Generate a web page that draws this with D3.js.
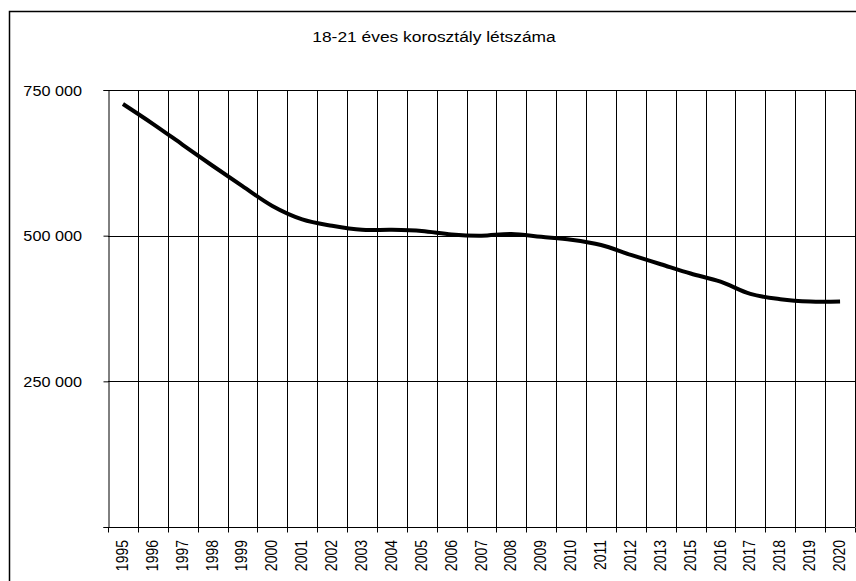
<html>
<head>
<meta charset="utf-8">
<style>
  body { margin: 0; background: #fff; }
  svg { display: block; }
  text { font-family: "Liberation Sans", Arial, sans-serif; fill: #000; }
  .line { fill: none; stroke: #000; stroke-width: 4; stroke-linejoin: round; stroke-linecap: butt; }
  .grid line { stroke: #000; stroke-width: 1; shape-rendering: crispEdges; }
</style>
</head>
<body>
<svg id="chart" width="856" height="581"></svg>
<script src="https://cdn.jsdelivr.net/npm/d3@7"></script>
<script>
// data (2014 is missing in the original too)
const years = ["1995","1996","1997","1998","1999","2000","2001","2002","2003","2004",
               "2005","2006","2007","2008","2009","2010","2011","2012","2013","2015",
               "2016","2017","2018","2019","2020"]
const values = [726000, 692000, 656000, 620000, 585000, 551000, 528000, 517000, 510000, 510000,
                508000, 502000, 500000, 503000, 498000, 493000, 484000, 467000, 451000, 435000,
                421000, 400000, 391000, 387000, 387000]
const yTicks = [0, 250000, 500000, 750000]
const title = "18-21 éves korosztály létszáma"

const svg = d3.select("#chart")
const plotLeft = 108, plotRight = 855, plotTop = 90, plotBottom = 527
const stretch = 1.2   // text in the original is a bit wide
const fs = 14.5

const x = d3.scaleBand().domain(years).range([plotLeft, plotRight]).padding(0)
const y = d3.scaleLinear().domain([0, 750000]).range([plotBottom, plotTop])
const fmt = d3.formatLocale({decimal: ",", thousands: " ", grouping: [3], currency: ["", ""]}).format(",")

// outer frame (cut off on the right and bottom)
svg.append("path")
    .attr("d", "M9.5,581 L9.5,11.5 L856,11.5")
    .attr("fill", "none").attr("stroke", "#000").attr("stroke-width", 1.5)

// title
svg.append("text")
    .attr("transform", "translate(434,42) scale(" + stretch + ",1)")
    .attr("text-anchor", "middle")
    .style("font-size", fs + "px")
    .text(title)

// gridlines
let grid = svg.append("g").attr("class", "grid")
let bounds = years.map(d => x(d)).concat([x.range()[1]])
grid.selectAll(".v").data(bounds.slice(1)).enter().append("line")
    .attr("x1", d => Math.round(d) + 0.5).attr("x2", d => Math.round(d) + 0.5)
    .attr("y1", plotTop).attr("y2", plotBottom)
grid.selectAll(".h").data(yTicks.slice(1)).enter().append("line")
    .attr("x1", plotLeft).attr("x2", plotRight)
    .attr("y1", d => Math.round(y(d)) + 0.5).attr("y2", d => Math.round(y(d)) + 0.5)

// y axis
svg.append("g")
    .attr("transform", "translate(" + (plotLeft + 0.5) + ",0)")
    .call(d3.axisLeft(y).tickValues(yTicks).tickSize(5).tickFormat(""))
    .call(g => g.select(".domain").attr("stroke", "#000"))

svg.selectAll(".ylab").data(yTicks.slice(1)).enter().append("text")
    .attr("transform", d => "translate(82," + (y(d) + 5.5) + ") scale(1.12,1)")
    .attr("text-anchor", "end")
    .style("font-size", fs + "px")
    .text(d => fmt(d))

// x axis: ticks on the category boundaries
let xAxis = svg.append("g").attr("transform", "translate(0," + (plotBottom + 0.5) + ")")
xAxis.append("line").attr("x1", plotLeft).attr("x2", plotRight).attr("stroke", "#000")
xAxis.selectAll(".tk").data(bounds).enter().append("line")
    .attr("x1", d => Math.round(d) + 0.5).attr("x2", d => Math.round(d) + 0.5)
    .attr("y1", 0).attr("y2", 5).attr("stroke", "#000")

svg.selectAll(".xlab").data(years).enter().append("text")
    .attr("transform", d => "translate(" + (x(d) + x.bandwidth() / 2 + 5) + ",540) rotate(-90) scale(1," + stretch + ")")
    .attr("text-anchor", "end")
    .style("font-size", "14px")
    .text(d => d)

// the line, smoothed like the original
let valueLine = d3.line()
    .x((d, i) => x(years[i]) + x.bandwidth() / 2)
    .y(d => y(d))
    .curve(d3.curveCatmullRom.alpha(0))

svg.append("path")
    .datum(values)
    .attr("class", "line")
    .attr("d", valueLine)
</script>
</body>
</html>
